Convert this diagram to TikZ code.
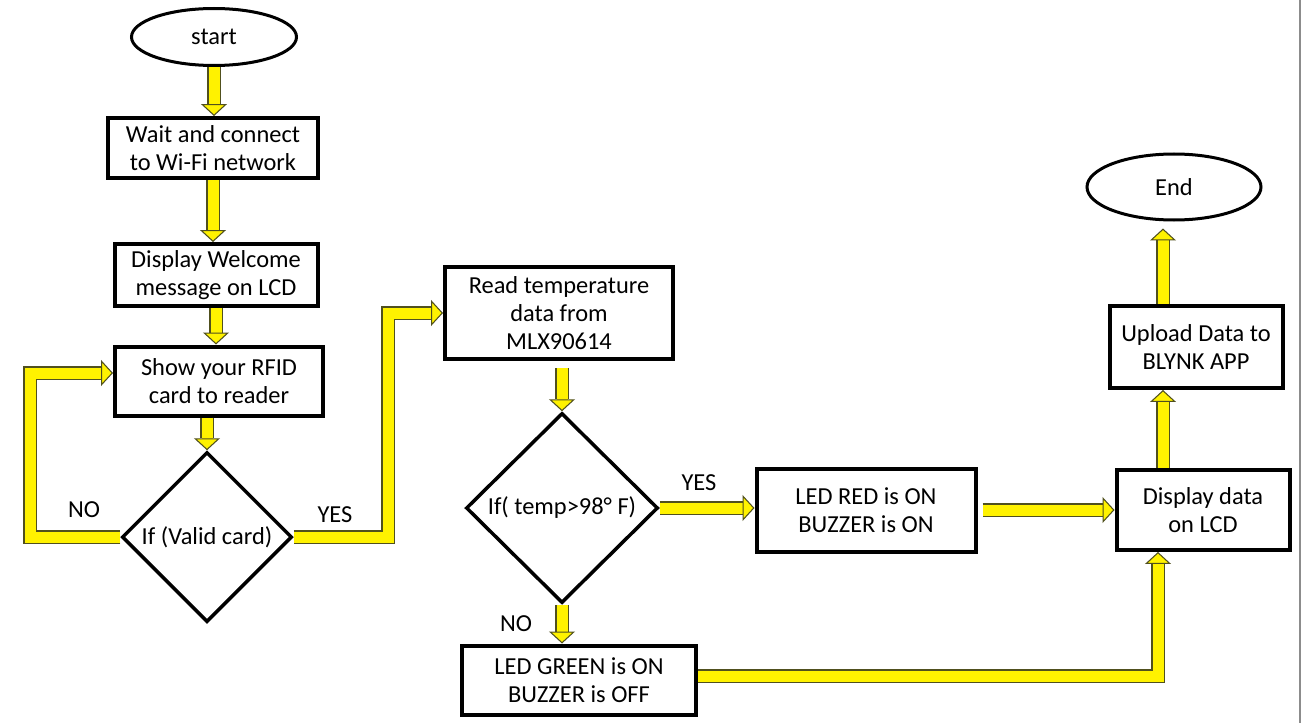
\documentclass[tikz,border=0pt]{standalone}
\usepackage{fontspec}
\setmainfont{Carlito}
\usepackage{tikz}
\usetikzlibrary{shapes.geometric,arrows.meta}
\newlength\pxu
\setlength\pxu{0.02cm}
\definecolor{arrowedge}{RGB}{80,80,30}
\definecolor{framegray}{RGB}{140,140,140}
\tikzset{
  box/.style={draw, line width=4\pxu, align=center, inner sep=0pt},
  term/.style={ellipse, draw, line width=3\pxu, inner sep=0pt},
  cond/.style={diamond, draw, line width=3.5\pxu, aspect=1, inner sep=0pt},
  bar/.style={draw=yellow, line width=11\pxu, line join=miter,
    preaction={draw=arrowedge, line width=13.5\pxu}},
  flow/.style={draw=yellow, line width=11\pxu, line join=miter,
    -{Triangle[length=6.8pt, width=14.7pt, fill=yellow, color=arrowedge, line width=0.6pt]},
    preaction={draw=arrowedge, line width=13.5\pxu, -, shorten >=6.8pt}},
}

\begin{document}
\begin{tikzpicture}[x=1\pxu, y=-1\pxu, font=\fontsize{13.9}{15.9}\selectfont]
      \useasboundingbox (0,0) rectangle (1302,723);
      \draw[framegray, line width=2\pxu] (1300,0) -- (1300,723);

      % left column
      \node[term, minimum width=165\pxu, minimum height=57\pxu] (start) at (214,37) {start};
      \node[box, minimum width=210\pxu, minimum height=60\pxu] (wait) at (213,148) {Wait and connect\\to Wi-Fi network};
      \node[box, minimum width=203\pxu, minimum height=62\pxu] (welcome) at (216,275) {Display Welcome\\message on LCD};
      \node[box, minimum width=208\pxu, minimum height=69\pxu] (rfid) at (219,381) {Show your RFID\\card to reader};
      \node[cond, minimum width=170\pxu, minimum height=170\pxu] (valid) at (207,537) {If (Valid card)};

      % middle column
      \node[box, minimum width=228\pxu, minimum height=92\pxu] (read) at (559,313) {Read temperature\\data from\\MLX90614};
      \node[cond, minimum width=192\pxu, minimum height=190\pxu] (temp) at (562,508) {If( temp>98° F)};
      \node[box, minimum width=234\pxu, minimum height=69\pxu] (green) at (579,680) {LED GREEN is ON\\BUZZER is OFF};
      \node[box, minimum width=219\pxu, minimum height=83\pxu] (red) at (866,510) {LED RED is ON\\BUZZER is ON};

      % right column
      \node[box, minimum width=173\pxu, minimum height=80\pxu] (disp) at (1203,510) {Display data\\on LCD};
      \node[box, minimum width=173\pxu, minimum height=82\pxu] (upload) at (1196,347) {Upload Data to\\BLYNK APP};
      \node[term, minimum width=174\pxu, minimum height=66\pxu] (end) at (1174,187) {End};

      % branch labels
      \node (no1) at (84,510) {NO};
      \node (yes1) at (335,515) {YES};
      \node (yes2) at (699,483) {YES};
      \node (no2) at (516,624) {NO};

      % bends
      \coordinate (noturn) at (30,535);
      \coordinate (yesturn) at (388,313);
      \coordinate (seam) at (924,676);
      \coordinate (rise) at (1158,676);
      \coordinate (lift) at (1163,430);

      % yellow block arrows
      \draw[flow] (start.south) -- (start.south |- wait.north);
      \draw[flow] (wait.south) -- (wait.south |- welcome.north);
      \draw[flow] (welcome.south) -- (welcome.south |- rfid.north);
      \draw[flow] (valid.north |- rfid.south) -- (valid.north);
      \draw[flow] (valid.west) -| (noturn) |- ([yshift=8\pxu]rfid.west);
      \draw[flow] (valid.east) -| (yesturn) -- (read.west);
      \draw[flow] ([yshift=-7\pxu]temp.north |- read.south) -- (temp.north);
      \draw[flow] (temp.south) -- (temp.south |- green.north);
      \draw[flow] (temp.east) -- (temp.east -| red.west);
      \draw[flow] ([xshift=5\pxu]red.east) -- (red.east -| disp.west);
      \draw[bar] ([yshift=4\pxu]green.east) -- (seam);
      \draw[flow] (seam) -| (rise |- disp.south);
      \draw[flow] (lift |- disp.north) -- (lift |- upload.south);
      \draw[flow] (lift |- upload.north) -- ([yshift=-7\pxu]lift |- end.south);
    \end{tikzpicture}
\end{document}
